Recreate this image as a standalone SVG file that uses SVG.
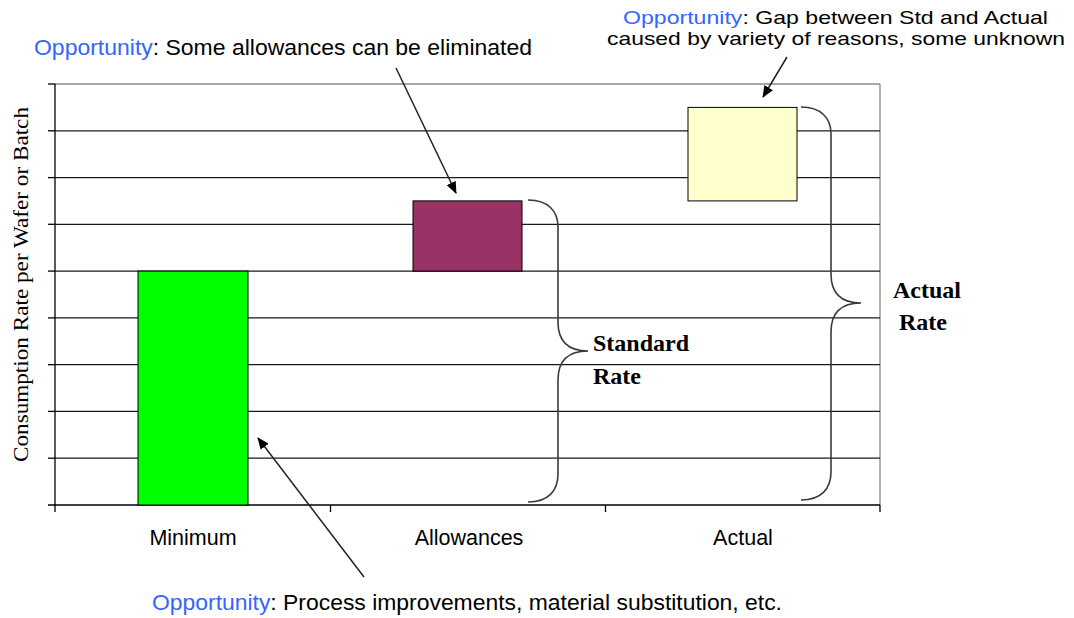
<svg xmlns="http://www.w3.org/2000/svg" width="1074" height="618" viewBox="0 0 1074 618">
  <defs>
    <marker id="arrowhead" viewBox="0 0 12 10" refX="11" refY="5" markerWidth="12" markerHeight="10" markerUnits="userSpaceOnUse" orient="auto">
      <path d="M0,0 L12,5 L0,10 Z" fill="#000"/>
    </marker>
    <style>
      .grid { stroke: #1a1a1a; stroke-width: 1.3; fill: none; }
      .frame { stroke: #8a8a8a; stroke-width: 1.3; fill: none; }
      .axis { stroke: #000; stroke-width: 1.3; fill: none; }
      .bar { stroke: #000; stroke-width: 1; }
      .brace { stroke: #3a3a3a; stroke-width: 1.6; fill: none; }
      .sans { font-family: "Liberation Sans", Arial, sans-serif; fill: #000; }
      .serif { font-family: "Liberation Serif", "Times New Roman", serif; fill: #000; }
      .opp { fill: #3366ff; }
      .cat { font-size: 21.5px; text-anchor: middle; }
      .note { font-size: 22px; }
      .note-tight { font-size: 19px; }
      .rate { font-size: 24px; font-weight: bold; }
      .conn { stroke: #222; stroke-width: 1.5; fill: none; marker-end: url(#arrowhead); }
    </style>
  </defs>

  <rect width="1074" height="618" fill="#fff"/>

  <!-- plot area: horizontal grid lines, frame and axes -->
  <g id="plot-area">
    <line class="frame" x1="55" y1="84" x2="880" y2="84"/>
    <line class="frame" x1="880" y1="84" x2="880" y2="505"/>
    <g class="grid">
      <line x1="55" y1="130.8" x2="880" y2="130.8"/>
      <line x1="55" y1="177.6" x2="880" y2="177.6"/>
      <line x1="55" y1="224.3" x2="880" y2="224.3"/>
      <line x1="55" y1="271.1" x2="880" y2="271.1"/>
      <line x1="55" y1="317.9" x2="880" y2="317.9"/>
      <line x1="55" y1="364.7" x2="880" y2="364.7"/>
      <line x1="55" y1="411.4" x2="880" y2="411.4"/>
      <line x1="55" y1="458.2" x2="880" y2="458.2"/>
    </g>
    <g class="axis">
      <line x1="55" y1="84" x2="55" y2="512"/>
      <line x1="48" y1="505" x2="880" y2="505"/>
      <!-- value ticks -->
      <line x1="48" y1="84" x2="55" y2="84"/>
      <line x1="48" y1="130.8" x2="55" y2="130.8"/>
      <line x1="48" y1="177.6" x2="55" y2="177.6"/>
      <line x1="48" y1="224.3" x2="55" y2="224.3"/>
      <line x1="48" y1="271.1" x2="55" y2="271.1"/>
      <line x1="48" y1="317.9" x2="55" y2="317.9"/>
      <line x1="48" y1="364.7" x2="55" y2="364.7"/>
      <line x1="48" y1="411.4" x2="55" y2="411.4"/>
      <line x1="48" y1="458.2" x2="55" y2="458.2"/>
      <!-- category ticks -->
      <line x1="330.5" y1="505" x2="330.5" y2="512"/>
      <line x1="605.5" y1="505" x2="605.5" y2="512"/>
      <line x1="880" y1="505" x2="880" y2="512"/>
    </g>
  </g>

  <!-- y-axis title -->
  <g id="y-axis-title">
    <text class="serif" font-size="22" text-anchor="middle" textLength="355" lengthAdjust="spacingAndGlyphs" transform="translate(28,284.5) rotate(-90)">Consumption Rate per Wafer or Batch</text>
  </g>

  <!-- bars -->
  <g id="bar-minimum">
    <rect class="bar" x="138" y="271.1" width="110" height="233.9" fill="#00ff00"/>
  </g>
  <g id="bar-allowances">
    <rect class="bar" x="413" y="200.9" width="109" height="70.2" fill="#993366"/>
  </g>
  <g id="bar-actual">
    <rect class="bar" x="688" y="107.4" width="109" height="93.5" fill="#ffffcc"/>
  </g>

  <!-- category labels -->
  <g id="category-labels">
    <text class="sans cat" x="193" y="545">Minimum</text>
    <text class="sans cat" x="469" y="545">Allowances</text>
    <text class="sans cat" x="743" y="545">Actual</text>
  </g>

  <!-- standard rate brace -->
  <g id="standard-rate">
    <path class="brace" d="M528,200 C548,200 558,211 558,227 L558,322 C558,341 568,351 588,351 C568,351 558,361 558,380 L558,474 C558,491 548,502 528,502"/>
    <text class="serif rate" x="593" y="351">Standard</text>
    <text class="serif rate" x="593" y="384">Rate</text>
  </g>

  <!-- actual rate brace -->
  <g id="actual-rate">
    <path class="brace" d="M801,107 C821,107 831,118 831,134 L831,274 C831,293 841,303 861,303 C841,303 831,313 831,332 L831,472 C831,489 821,500 801,500"/>
    <text class="serif rate" x="927" y="298" text-anchor="middle">Actual</text>
    <text class="serif rate" x="923" y="330" text-anchor="middle">Rate</text>
  </g>

  <!-- opportunity notes -->
  <g id="note-allowances">
    <text class="sans note" x="34" y="55" textLength="498" lengthAdjust="spacingAndGlyphs"><tspan class="opp">Opportunity</tspan>: Some allowances can be eliminated</text>
  </g>
  <g id="note-gap">
    <text class="sans note-tight" x="623" y="23.5" textLength="425" lengthAdjust="spacingAndGlyphs"><tspan class="opp">Opportunity</tspan>: Gap between Std and Actual</text>
    <text class="sans note-tight" x="607" y="45" textLength="458" lengthAdjust="spacingAndGlyphs">caused by variety of reasons, some unknown</text>
  </g>
  <g id="note-minimum">
    <text class="sans note" x="152" y="610" textLength="630" lengthAdjust="spacingAndGlyphs"><tspan class="opp">Opportunity</tspan>: Process improvements, material substitution, etc.</text>
  </g>

  <!-- connectors -->
  <g id="connectors">
    <line class="conn" x1="396" y1="68" x2="456" y2="193"/>
    <line class="conn" x1="787" y1="57" x2="763" y2="97"/>
    <line class="conn" x1="364" y1="577" x2="258" y2="438"/>
  </g>
</svg>
